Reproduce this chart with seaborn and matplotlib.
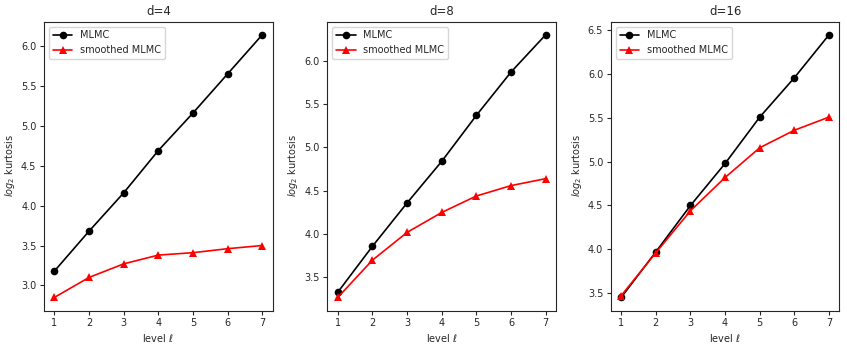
import matplotlib
matplotlib.use('Agg')
import matplotlib.pyplot as plt
import seaborn as sns
import pandas as pd

sns.set_style('ticks')
plt.rcParams['font.size'] = 7
plt.rcParams['axes.labelpad'] = 3

levels = [1, 2, 3, 4, 5, 6, 7]
dims = [4, 8, 16]
mlmc = {
    4: [3.18, 3.68, 4.16, 4.69, 5.16, 5.65, 6.14],
    8: [3.33, 3.86, 4.36, 4.84, 5.37, 5.87, 6.30],
    16: [3.45, 3.97, 4.50, 4.98, 5.51, 5.96, 6.45],
}
smoothed = {
    4: [2.85, 3.10, 3.27, 3.38, 3.41, 3.46, 3.50],
    8: [3.27, 3.70, 4.02, 4.25, 4.44, 4.56, 4.64],
    16: [3.47, 3.96, 4.44, 4.82, 5.16, 5.36, 5.51],
}

fig, axes = plt.subplots(1, 3, figsize=(8.47, 3.45), dpi=100)
fig.subplots_adjust(left=0.052, right=0.991, bottom=0.1, top=0.937, wspace=0.24)

for ax, d in zip(axes, dims):
    df = pd.DataFrame({'level': levels, 'MLMC': mlmc[d], 'smoothed MLMC': smoothed[d]})
    sns.lineplot(x='level', y='MLMC', data=df, ax=ax, color='black', marker='o',
                 markersize=5.5, markeredgewidth=0, linewidth=1.2, label='MLMC')
    sns.lineplot(x='level', y='smoothed MLMC', data=df, ax=ax, color='red', marker='^',
                 markersize=6, markeredgewidth=0, linewidth=1.2, label='smoothed MLMC')
    ax.set_title('d=%d' % d, fontsize=8.5, pad=5)
    ax.set_xlabel(r'level $\ell$')
    ax.set_ylabel(r'$log_2$ kurtosis')
    ax.set_xticks(levels)
    ax.tick_params(length=3, width=0.8, pad=2.5)
    ax.legend(loc='upper left', fontsize=7)
    for s in ax.spines.values():
        s.set_visible(True)
        s.set_linewidth(0.8)

fig.savefig('out.png', dpi=100)
